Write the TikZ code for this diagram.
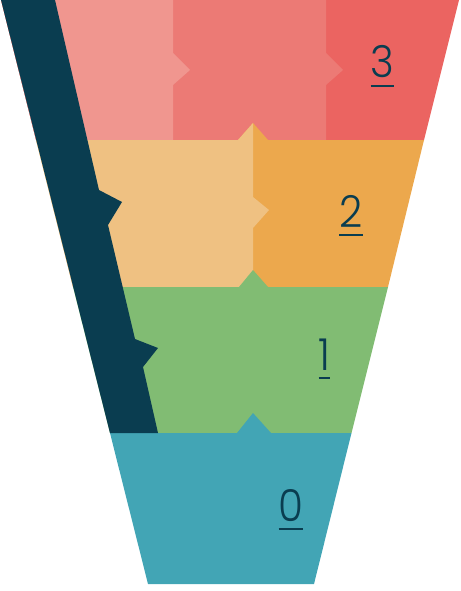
\documentclass[tikz,border=0pt]{standalone}
\usepackage{fontspec}
\IfFontExistsTF{Poppins Light}{\newfontfamily\labfont{Poppins Light}}{\newfontfamily\labfont{Poppins}}
\definecolor{navy}{HTML}{0A3D50}
\definecolor{pinkA}{HTML}{F0968F}
\definecolor{pinkB}{HTML}{EC7A75}
\definecolor{coral}{HTML}{EB6461}
\definecolor{peach}{HTML}{EFC182}
\definecolor{orangeB}{HTML}{ECA84D}
\definecolor{greenB}{HTML}{81BC73}
\definecolor{tealB}{HTML}{42A5B5}
\newcommand\ulnum[1]{\vtop{\hbox{#1}\kern7pt\hrule height 2.2pt}}
\begin{document}
\begin{tikzpicture}[x=1pt,y=-1pt,
  seg/.style={draw=none},
  lab/.style={text=navy,font=\labfont\fontsize{44}{44}\selectfont,anchor=base,inner sep=0pt,xscale=0.92}]
\useasboundingbox (0,0) rectangle (460,591);
% band 3
\fill[coral] (1,0) -- (459,0) -- (424,140) -- (36,140) -- cycle;
\fill[pinkB] (1,0) -- (326,0) -- (326,53) -- (343,70) -- (326,85) -- (326,140) -- (36,140) -- cycle;
\fill[pinkA] (1,0) -- (173,0) -- (173,53) -- (190,70) -- (173,85) -- (173,140) -- (36,140) -- cycle;
% band 2
\fill[orangeB] (36,140) -- (238,140) -- (253,123) -- (268,140) -- (424,140) -- (388,287) -- (73,287) -- cycle;
\fill[peach] (36,140) -- (238,140) -- (253,123) -- (253,197) -- (269,210) -- (253,228) -- (253,287) -- (73,287) -- cycle;
% band 1
\fill[greenB] (73,287) -- (239,287) -- (253,270) -- (268,287) -- (388,287) -- (351.5,433) -- (110,433) -- cycle;
% band 0
\fill[tealB] (110,433) -- (237,433) -- (253,413) -- (271,433) -- (351.5,433) -- (314,584) -- (148,584) -- cycle;
% navy strip
\fill[navy] (1,0) -- (55,0) -- (99,190) -- (122,202) -- (108,225) -- (135,339) -- (158,348) -- (143,367) -- (158,433) -- (110,433) -- cycle;
% labels
\node[lab] (l3) at (382.5,78) {\ulnum{3}};
\node[lab] (l2) at (351,227) {\ulnum{2}};
\node[lab] (l1) at (324.5,370) {\ulnum{1}};
\node[lab] (l0) at (291,521) {\ulnum{0}};
\end{tikzpicture}
\end{document}
